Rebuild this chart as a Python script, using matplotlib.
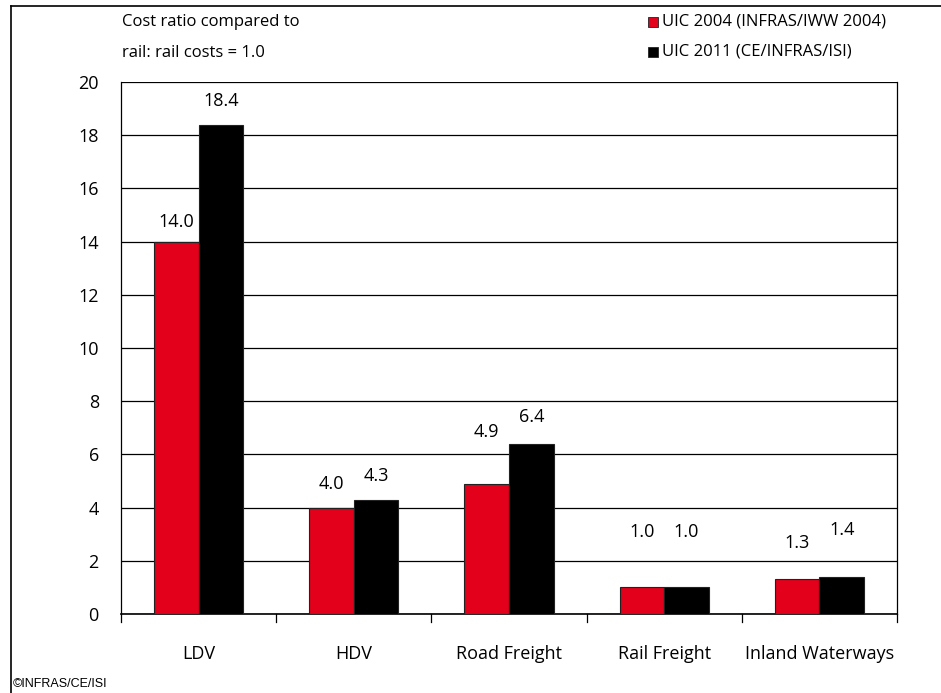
import matplotlib
matplotlib.use("Agg")
import matplotlib.pyplot as plt
import numpy as np
from matplotlib.patches import Rectangle
from matplotlib.lines import Line2D

categories = ["LDV", "HDV", "Road Freight", "Rail Freight", "Inland Waterways"]
uic2004 = [14.0, 4.0, 4.9, 1.0, 1.3]
uic2011 = [18.4, 4.3, 6.4, 1.0, 1.4]
series_names = ["UIC 2004 (INFRAS/IWW 2004)", "UIC 2011 (CE/INFRAS/ISI)"]
yticks = [0, 2, 4, 6, 8, 10, 12, 14, 16, 18, 20]

# label offsets above bar tops (points) - styling
off2004 = [14, 17, 37, 40, 26]
off2011 = [17, 17, 19, 40, 34]

plt.rcParams['font.family'] = ['Open Sans', 'DejaVu Sans']
red = "#E2001A"

fig = plt.figure(figsize=(9.41, 6.93), dpi=100)
ax = fig.add_axes([121/941, 1-614/693, (897-121)/941, (614-82)/693])

x = np.arange(len(categories))
w = 0.287
ax.bar(x - w/2, uic2004, w, color=red, edgecolor="#222222", linewidth=0.8, zorder=3)
ax.bar(x + w/2, uic2011, w, color="black", edgecolor="#222222", linewidth=0.8, zorder=3)

for i in range(len(categories)):
    ax.annotate(f"{uic2004[i]:.1f}", (x[i]-w/2, uic2004[i]), xytext=(0, off2004[i]),
                textcoords="offset points", ha="center", va="center", fontsize=13)
    ax.annotate(f"{uic2011[i]:.1f}", (x[i]+w/2, uic2011[i]), xytext=(0, off2011[i]),
                textcoords="offset points", ha="center", va="center", fontsize=13)

ax.set_xlim(-0.5, len(categories)-0.5)
ax.set_ylim(0, 20)
ax.set_yticks(yticks)
ax.set_yticklabels([str(t) for t in yticks], fontsize=13)
ax.tick_params(axis="y", length=0, pad=16)
ax.set_xticks(x)
ax.set_xticklabels(categories, fontsize=13)
ax.tick_params(axis="x", length=0, pad=22)
for xb in np.arange(-0.5, len(categories)+0.5, 1.0):
    ax.plot([xb, xb], [0, -0.3], color="black", lw=0.9, clip_on=False, zorder=4)
ax.yaxis.grid(True, color="black", lw=0.9, zorder=0)
ax.spines["top"].set_visible(False)
for s in ["left", "right", "bottom"]:
    ax.spines[s].set_linewidth(0.9)
ax.spines["bottom"].set_linewidth(1.2)

# annotations
fig.text(122/941, 1-22/693, "Cost ratio compared to", fontsize=12, va="center", ha="left")
fig.text(122/941, 1-53/693, "rail: rail costs = 1.0", fontsize=12, va="center", ha="left")

# legend
for j, (nm, col) in enumerate(zip(series_names, [red, "black"])):
    yc = 22 + 30*j
    fig.patches.append(Rectangle((648/941, 1-(yc+5)/693), 10/941, 10/693,
                                 transform=fig.transFigure, facecolor=col,
                                 edgecolor="#222222", lw=0.6))
    fig.text(662/941, 1-yc/693, nm, fontsize=12, va="center", ha="left")

# outer frame (left and top only)
fig.add_artist(Line2D([11/941, 11/941], [0, 1-6/693], transform=fig.transFigure, color="black", lw=1.2))
fig.add_artist(Line2D([11/941, 1], [1-6/693, 1-6/693], transform=fig.transFigure, color="black", lw=1.2))

fig.text(13/941, 1-684/693, "©INFRAS/CE/ISI", fontsize=9, family=["Liberation Sans"], va="center", ha="left")

fig.savefig("out.png", dpi=100)
